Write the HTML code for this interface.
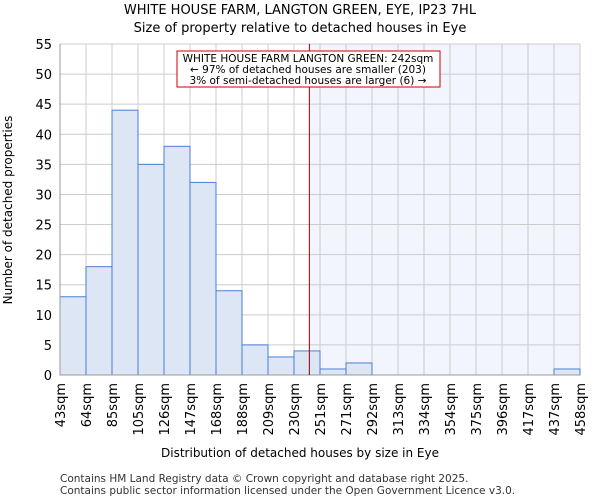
<!DOCTYPE html>
<html><head><meta charset="utf-8"><style>
body{margin:0;background:#fff}
svg{display:block;font-family:"DejaVu Sans","Liberation Sans",sans-serif}
</style></head><body>
<svg id="chart" width="600" height="500">
<text x="300" y="14" text-anchor="middle" font-size="13">WHITE HOUSE FARM, LANGTON GREEN, EYE, IP23 7HL</text>
<text x="300" y="32" text-anchor="middle" font-size="13">Size of property relative to detached houses in Eye</text>
<g id="plot"></g>
<text x="300" y="457" text-anchor="middle" font-size="12">Distribution of detached houses by size in Eye</text>
<text transform="translate(12,210) rotate(-90)" text-anchor="middle" font-size="12">Number of detached properties</text>
<text x="60" y="482" font-size="10.5" fill="#333">Contains HM Land Registry data © Crown copyright and database right 2025.</text>
<text x="60" y="494" font-size="10.5" fill="#333">Contains public sector information licensed under the Open Government Licence v3.0.</text>
</svg>
<script>
const categories=["43sqm","64sqm","85sqm","105sqm","126sqm","147sqm","168sqm","188sqm","209sqm","230sqm","251sqm","271sqm","292sqm","313sqm","334sqm","354sqm","375sqm","396sqm","417sqm","437sqm","458sqm"];
const counts=[13,18,44,35,38,32,14,5,3,4,1,2,0,0,0,0,0,0,0,1];
const yTicks=[0,5,10,15,20,25,30,35,40,45,50,55];
const binStart=43, binWidth=20.75, markerValue=242;
const X0=60,X1=580,Y0=375,Y1=44,yMax=55;
const nb=counts.length;
const xs=i=>X0+(X1-X0)*i/nb;
const xv=v=>X0+(X1-X0)*(v-binStart)/(binWidth*nb);
const ys=v=>Y0-(Y0-Y1)*v/yMax;
const NS="http://www.w3.org/2000/svg";
const g=document.getElementById('plot');
function mk(t,a){const e=document.createElementNS(NS,t);for(const k in a)e.setAttribute(k,a[k]);g.appendChild(e);return e;}
const mx=xv(markerValue);
let sh=mk('rect',{x:mx,y:Y1,width:X1-mx,height:Y0-Y1,fill:'#f2f5fd'});


yTicks.forEach(t=>{
 let l=mk('line',{x1:X0,x2:X1,y1:ys(t),y2:ys(t),stroke:'#ccc','stroke-width':1});
 
 
 let tx=mk('text',{x:X0-8,y:ys(t)+5,'text-anchor':'end','font-size':13});
 tx.textContent=t;
 
 
});
categories.forEach((c,i)=>{
 const x=xs(i);
 let l=mk('line',{x1:x,x2:x,y1:Y1,y2:Y0,stroke:'#ccc','stroke-width':1});
 
 
 let tx=mk('text',{transform:`translate(${x+5},383) rotate(-90)`,'text-anchor':'end','font-size':13});
 tx.textContent=c;
 
 
});
counts.forEach((v,i)=>{
 if(v<=0)return;
 let r=mk('rect',{x:xs(i),y:ys(v),width:xs(i+1)-xs(i),height:Y0-ys(v),fill:'#dce6f4',stroke:'#4a7fd4','stroke-width':1});
 
 
});
let ax=mk('line',{x1:X0,x2:X0,y1:Y1,y2:Y0,stroke:'#999'});


let bx=mk('line',{x1:X0,x2:X1,y1:Y0,y2:Y0,stroke:'#999'});


let ml=mk('line',{x1:mx,x2:mx,y1:Y1,y2:Y0,stroke:'#8b0000','stroke-width':1});


let bxr=mk('rect',{x:177,y:51,width:263,height:36,fill:'#fff',stroke:'#c00','stroke-width':1});


["WHITE HOUSE FARM LANGTON GREEN: 242sqm","← 97% of detached houses are smaller (203)","3% of semi-detached houses are larger (6) →"].forEach((s,i)=>{
 let t=mk('text',{x:308,y:62+i*11,'text-anchor':'middle','font-size':10.5});
 t.textContent=s;
 
 
});
</script>
</body></html>
